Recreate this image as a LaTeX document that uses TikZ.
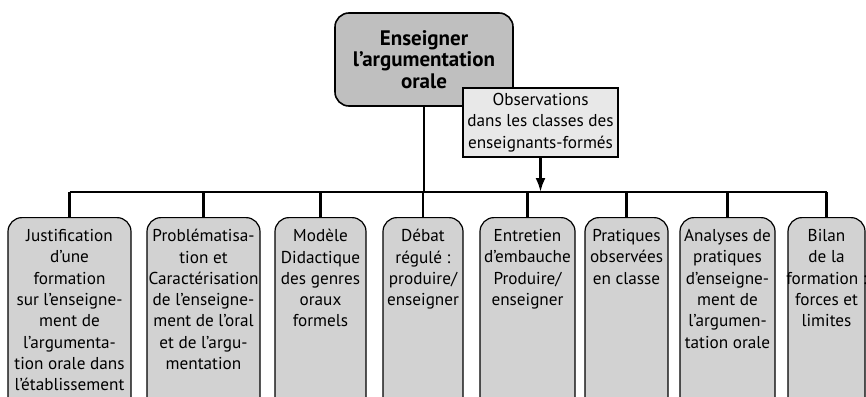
\documentclass[tikz,border=0pt]{standalone}
\usepackage{fontspec}
\setmainfont{PT Sans}
\usetikzlibrary{arrows.meta}

\begin{document}
\begin{tikzpicture}[%
  x=0.5pt, y=-0.5pt,
  titre/.style={rectangle, rounded corners=7pt, draw, line width=0.8pt, fill=gray!50,
    align=center, minimum width=89pt, minimum height=46.5pt, inner sep=1pt,
    font=\bfseries\fontsize{10.5}{9.3}\selectfont},
  obs/.style={rectangle, draw, line width=0.6pt, fill=gray!18, align=center,
    minimum width=77.5pt, minimum height=34.5pt, inner sep=1pt},
  bloc/.style={rectangle, rounded corners=7pt, draw, line width=0.6pt, fill=gray!35,
    anchor=north, minimum height=102pt},
  etiq/.style={anchor=north, align=center, inner sep=0pt, yshift=-6pt},
  lien/.style={line width=1.25pt},
  ]
  \useasboundingbox (0,0) rectangle (866,396);
  \clip (0,0) rectangle (866,396);
  {\fontsize{8.6}{10.65}\selectfont
    \node[titre] (racine) at (424,59.5) {Enseigner\\l’argumentation\\orale};
    \node[obs] (observ) at (540.5,122.5) {Observations\\dans les classes des\\enseignants-formés};
    \coordinate (barreG) at (69.5,192);
    \coordinate (barreD) at (826.5,192);
    \node[bloc, minimum width=61.5pt, label={[etiq]north:Justification\\d’une\\formation\\sur l’enseigne-\\ment de\\l’argumenta-\\tion orale dans\\l’établissement}] (b1) at (69.5,217) {};
    \node[bloc, minimum width=56.5pt, label={[etiq]north:Problématisa-\\tion et\\Caractérisation\\de l’enseigne-\\ment de l’oral\\et de l’argu-\\mentation}] (b2) at (203.5,217) {};
    \node[bloc, minimum width=45.5pt, label={[etiq]north:Modèle\\Didactique\\des genres\\oraux\\formels}] (b3) at (320.5,217) {};
    \node[bloc, minimum width=40pt, label={[etiq]north:Débat\\régulé :\\produire/\\enseigner}] (b4) at (423,217) {};
    \node[bloc, minimum width=47.5pt, label={[etiq]north:Entretien\\d’embauche\\Produire/\\enseigner}] (b5) at (527.5,217) {};
    \node[bloc, minimum width=41.5pt, label={[etiq]north:Pratiques\\observées\\en classe}] (b6) at (626.5,217) {};
    \node[bloc, minimum width=47.5pt, label={[etiq]north:Analyses de\\pratiques\\d’enseigne-\\ment de\\l’argumen-\\tation orale}] (b7) at (727.5,217) {};
    \node[bloc, minimum width=38.5pt, label={[etiq]north:Bilan\\de la\\formation :\\forces et\\limites}] (b8) at (826.5,217) {};
    \draw[lien] (barreG) -- (barreD);
    \draw[lien] (racine.south) -- (racine.south |- barreG);
    \draw[lien, -{Latex[length=7pt,width=5pt]}] (observ.south) -- (observ.south |- barreG);
    \foreach \i in {1,...,8}
      \draw[lien] (b\i.north) -- (b\i.north |- barreG);
  }
\end{tikzpicture}
\end{document}
